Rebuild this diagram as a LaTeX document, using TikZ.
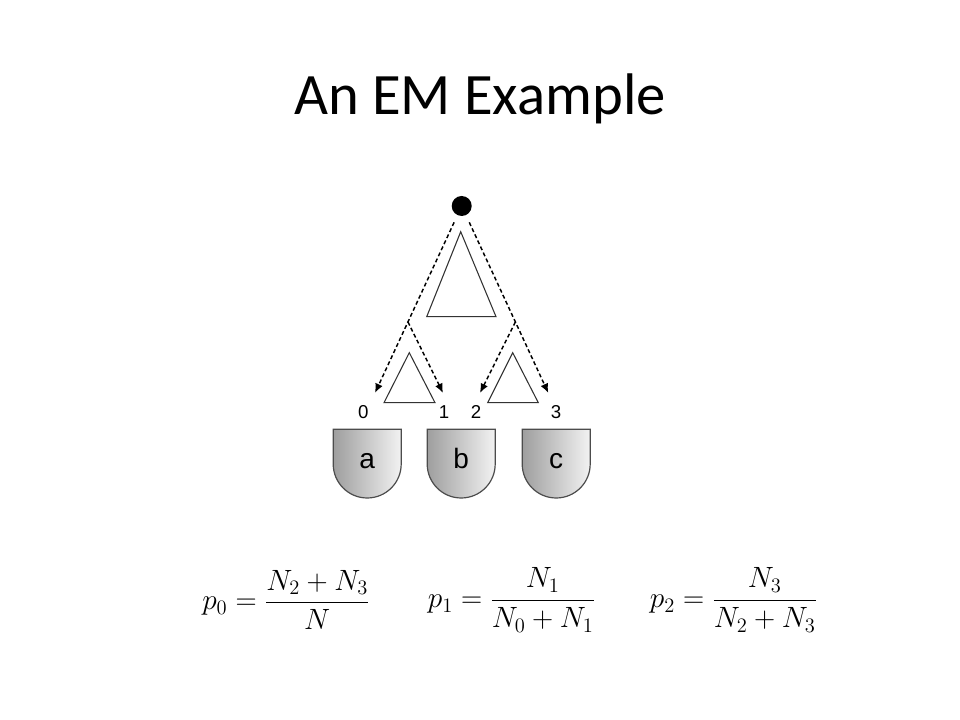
\RequirePackage{fix-cm}
\documentclass[tikz,border=0pt]{standalone}
\usepackage{amsmath}
\usepackage{fontspec}
\usepackage{tikz}
\usetikzlibrary{arrows.meta,calc}
\newfontfamily\titlefont{Carlito}
\newfontfamily\labelfont{Liberation Sans}

\begin{document}
\begin{tikzpicture}[x=0.75pt,y=0.75pt,
        dot/.style={circle,fill=black,minimum size=15pt,inner sep=0pt,outer sep=6pt},
        branch/.style={dash pattern=on 3pt off 2pt,line width=1.1pt,-{Latex[length=7pt,width=6pt]}},
        tri/.style={draw=black!80,line width=0.8pt,fill=white},
        urn/.style={draw=black!70,line width=0.9pt,left color=black!38,right color=black!5},
        num/.style={font=\labelfont\fontsize{14}{16}\selectfont,anchor=base},
        let/.style={font=\labelfont\fontsize{21}{24}\selectfont,anchor=base},
        eq/.style={font=\fontsize{22}{26}\selectfont}]
        \useasboundingbox (0,0) rectangle (960,720);
        \node[anchor=base,font=\titlefont\fontsize{44}{50}\selectfont] (title) at (480,605) {An EM Example};
        \node[dot] (root) at (461.7,514) {};
        \coordinate (t0) at (375,327);
        \coordinate (t1) at (443,327);
        \coordinate (t2) at (480,327);
        \coordinate (t3) at (548.3,327);
        \coordinate (bl) at ($(root)!0.62!(t0)$);
        \coordinate (br) at ($(root)!0.62!(t3)$);
        \draw[tri] (460.7,488.3) -- (426.7,403.3) -- (496,403.3) -- cycle;
        \draw[tri] (409.3,367.3) -- (384,317.3) -- (435,317.3) -- cycle;
        \draw[tri] (512.7,367.3) -- (487.7,317.3) -- (538.3,317.3) -- cycle;
        \draw[branch] (root) -- (t0);
        \draw[branch] (root) -- (t3);
        \draw[branch] (bl) -- (t1);
        \draw[branch] (br) -- (t2);
        \node[num] (n0) at (363.3,301.3) {0};
        \node[num] (n1) at (444,301.3) {1};
        \node[num] (n2) at (476,301.3) {2};
        \node[num] (n3) at (556,301.3) {3};
        \foreach \x/\l in {367.2/a,461.2/b,556.2/c}{
            \shade[urn] (\x-34,290.7) -- (\x-34,256) arc[start angle=180,end angle=360,radius=34] -- (\x+34,290.7) -- cycle;
            \node[let] (\l) at (\x,251.7) {\l};
        }
        \node[eq] (p0) at (286,120) {$\displaystyle p_0=\frac{N_2+N_3}{N}$};
        \node[eq] (p1) at (511.5,120) {$\displaystyle p_1=\frac{N_1}{N_0+N_1}$};
        \node[eq] (p2) at (733.5,120) {$\displaystyle p_2=\frac{N_3}{N_2+N_3}$};
    \end{tikzpicture}
\end{document}
